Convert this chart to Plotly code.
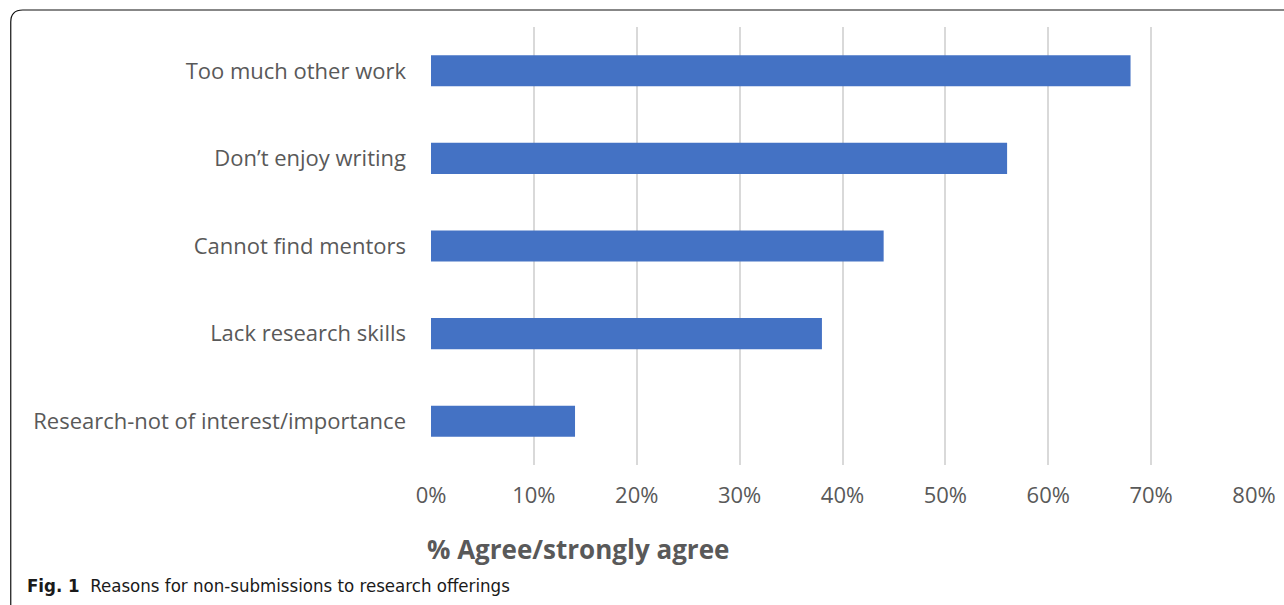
import plotly.graph_objects as go

categories = ["Research-not of interest/importance", "Lack research skills",
              "Cannot find mentors", "Don\u2019t enjoy writing", "Too much other work"]
values = [14, 38, 44, 56, 68]
tick_vals = [0, 10, 20, 30, 40, 50, 60, 70, 80]
tick_text = [f"{v}%" for v in tick_vals]

W, H = 1284, 605
L, R, T, B = 430.5, 30, 27, 140
PW, PH = W - L - R, H - T - B


def px(x):
    return (x - L) / PW


def py(y):
    return (H - B - y) / PH


# rounded border (pixel coordinates -> paper); bottom edge is cut off by the image
bx0, by0, bx1, r = 10, 10, 1300, 12
border = (f"M {px(bx0)},{py(606)} Q {px(bx0)},{py(604)} {px(bx0)},{py(600)} "
          f"L {px(bx0)},{py(by0 + r)} Q {px(bx0)},{py(by0)} {px(bx0 + r)},{py(by0)} "
          f"L {px(bx1)},{py(by0)}")

fig = go.Figure(go.Bar(
    x=values, y=categories, orientation="h",
    marker=dict(color="#4472C4", line=dict(width=0)),
    width=0.355, hoverinfo="x+y"))

fig.update_layout(
    width=W, height=H,
    margin=dict(l=L, r=R, t=T, b=B, autoexpand=False),
    paper_bgcolor="white", plot_bgcolor="white",
    showlegend=False,
    font=dict(family="Open Sans, sans-serif", color="#595959"),
    xaxis=dict(range=[0, 80], tickvals=tick_vals, ticktext=tick_text,
               showgrid=True, gridcolor="#d9d9d9", gridwidth=2,
               zeroline=False, showline=False,
               tickfont=dict(size=22, color="#595959"),
               ticklabelstandoff=15, fixedrange=True),
    yaxis=dict(showgrid=False, zeroline=False, showline=False,
               tickfont=dict(size=22, color="#595959"),
               ticklabelstandoff=24, range=[-0.5, 4.5], fixedrange=True),
    shapes=[dict(type="path", xref="paper", yref="paper", path=border,
                 line=dict(color="#111111", width=1.2), layer="below")],
    annotations=[
        dict(text="<b>% Agree/strongly agree</b>", xref="paper", yref="paper",
             x=px(578), y=py(549),
             xanchor="center", yanchor="middle", showarrow=False,
             font=dict(size=26, color="#595959", family="Open Sans, sans-serif")),
        dict(text="<b>Fig. 1</b>  Reasons for non-submissions to research offerings",
             xref="paper", yref="paper",
             x=px(24), y=py(585),
             xanchor="left", yanchor="middle", showarrow=False,
             font=dict(size=18.5, color="#1a1a1a",
                       family="Liberation Sans Narrow, DejaVu Sans Condensed, sans-serif")),
    ],
)

fig.write_html("out.html", config={"displayModeBar": False})
